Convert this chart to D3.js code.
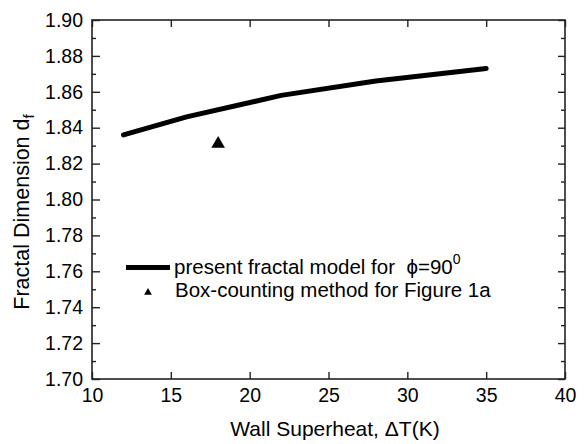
<!DOCTYPE html>
<html>
<head>
<meta charset="utf-8">
<script src="https://cdn.jsdelivr.net/npm/d3@7"></script>
<style>
  html, body { margin: 0; padding: 0; background: #fff; }
  svg { display: block; font-family: "Liberation Sans", Arial, sans-serif; }
</style>
</head>
<body>
<svg id="chart" width="585" height="444"></svg>
<script>
// Fractal dimension vs wall superheat
const superheat = [12, 16, 22, 28, 35];
const modelDf = [1.836, 1.846, 1.858, 1.866, 1.873];
const boxSuperheat = [18];
const boxDf = [1.831];
const xTicks = [10, 15, 20, 25, 30, 35, 40];
const yTicks = [1.70, 1.72, 1.74, 1.76, 1.78, 1.80, 1.82, 1.84, 1.86, 1.88, 1.90];
const yMinor = [1.71, 1.73, 1.75, 1.77, 1.79, 1.81, 1.83, 1.85, 1.87, 1.89];

(function () {
  const svg = d3.select("#chart");
  const L = 92, R = 565, T = 20, B = 379;

  const x = d3.scaleLinear().domain([10, 40]).range([L, R]);
  const y = d3.scaleLinear().domain([1.70, 1.90]).range([B, T]);

  const axisColor = "#222";

  // frame
  svg.append("rect")
    .attr("x", L).attr("y", T).attr("width", R - L).attr("height", B - T)
    .attr("fill", "none").attr("stroke", axisColor).attr("stroke-width", 1.6);

  // ticks (inward on all sides)
  function styleAxis(g) {
    g.select(".domain").remove();
    g.selectAll(".tick line").attr("stroke", axisColor).attr("stroke-width", 1.4);
    g.selectAll(".tick text").attr("fill", "#000").style("font-size", "19.5px")
      .style("font-family", "'Liberation Sans', Arial, sans-serif");
  }
  const axB = svg.append("g").attr("transform", `translate(0,${B})`)
    .call(d3.axisBottom(x).tickValues(xTicks).tickFormat(d3.format("d")).tickSizeInner(-7).tickPadding(9));
  styleAxis(axB);
  axB.selectAll(".tick text").attr("dy", "0.71em");

  const axT = svg.append("g").attr("transform", `translate(0,${T})`)
    .call(d3.axisTop(x).tickValues(xTicks).tickFormat("").tickSizeInner(-7));
  styleAxis(axT);

  const axL = svg.append("g").attr("transform", `translate(${L},0)`)
    .call(d3.axisLeft(y).tickValues(yTicks).tickFormat(d3.format(".2f")).tickSizeInner(-8).tickPadding(9));
  styleAxis(axL);
  const axLm = svg.append("g").attr("transform", `translate(${L},0)`)
    .call(d3.axisLeft(y).tickValues(yMinor).tickFormat("").tickSizeInner(-4));
  styleAxis(axLm);

  const axR = svg.append("g").attr("transform", `translate(${R},0)`)
    .call(d3.axisRight(y).tickValues(yTicks).tickFormat("").tickSizeInner(-7));
  styleAxis(axR);
  const axRm = svg.append("g").attr("transform", `translate(${R},0)`)
    .call(d3.axisRight(y).tickValues(yMinor).tickFormat("").tickSizeInner(-4));
  styleAxis(axRm);

  // model curve
  const line = d3.line().x((d, i) => x(superheat[i])).y(d => y(d));
  svg.append("path").datum(modelDf)
    .attr("d", line).attr("fill", "none").attr("stroke", "#000")
    .attr("stroke-width", 5).attr("stroke-linejoin", "round").attr("stroke-linecap", "round");

  // box-counting point
  const tri = d3.symbol().type(d3.symbolTriangle).size(80);
  svg.selectAll(".box").data(boxDf).enter().append("path")
    .attr("d", tri)
    .attr("transform", (d, i) => `translate(${x(boxSuperheat[i])},${y(d)})`)
    .attr("fill", "#000");

  // axis titles
  svg.append("text")
    .attr("x", 335).attr("y", 436)
    .attr("text-anchor", "middle").style("font-size", "21px")
    .text("Wall Superheat, \u0394T(K)");

  const yt = svg.append("text")
    .attr("transform", `translate(29,212) rotate(-90)`)
    .attr("text-anchor", "middle").style("font-size", "21.5px");
  yt.append("tspan").text("Fractal Dimension d");
  yt.append("tspan").attr("dy", 5).style("font-size", "15px").text("f");

  // legend
  const lg = svg.append("g");
  lg.append("line").attr("x1", 126).attr("x2", 170).attr("y1", 267.5).attr("y2", 267.5)
    .attr("stroke", "#000").attr("stroke-width", 5);
  const t1 = lg.append("text").attr("x", 174).attr("y", 273.5)
    .style("font-size", "20.5px").style("white-space", "pre");
  t1.append("tspan").text("present fractal model for  \u03D5=90");
  t1.append("tspan").attr("dy", -10).style("font-size", "14px").text("0");
  lg.append("path").attr("d", d3.symbol().type(d3.symbolTriangle).size(26))
    .attr("transform", "translate(148,292.5)").attr("fill", "#000");
  lg.append("text").attr("x", 175).attr("y", 296.5).style("font-size", "20.5px")
    .text("Box-counting method for Figure 1a");
})();
</script>
</body>
</html>
